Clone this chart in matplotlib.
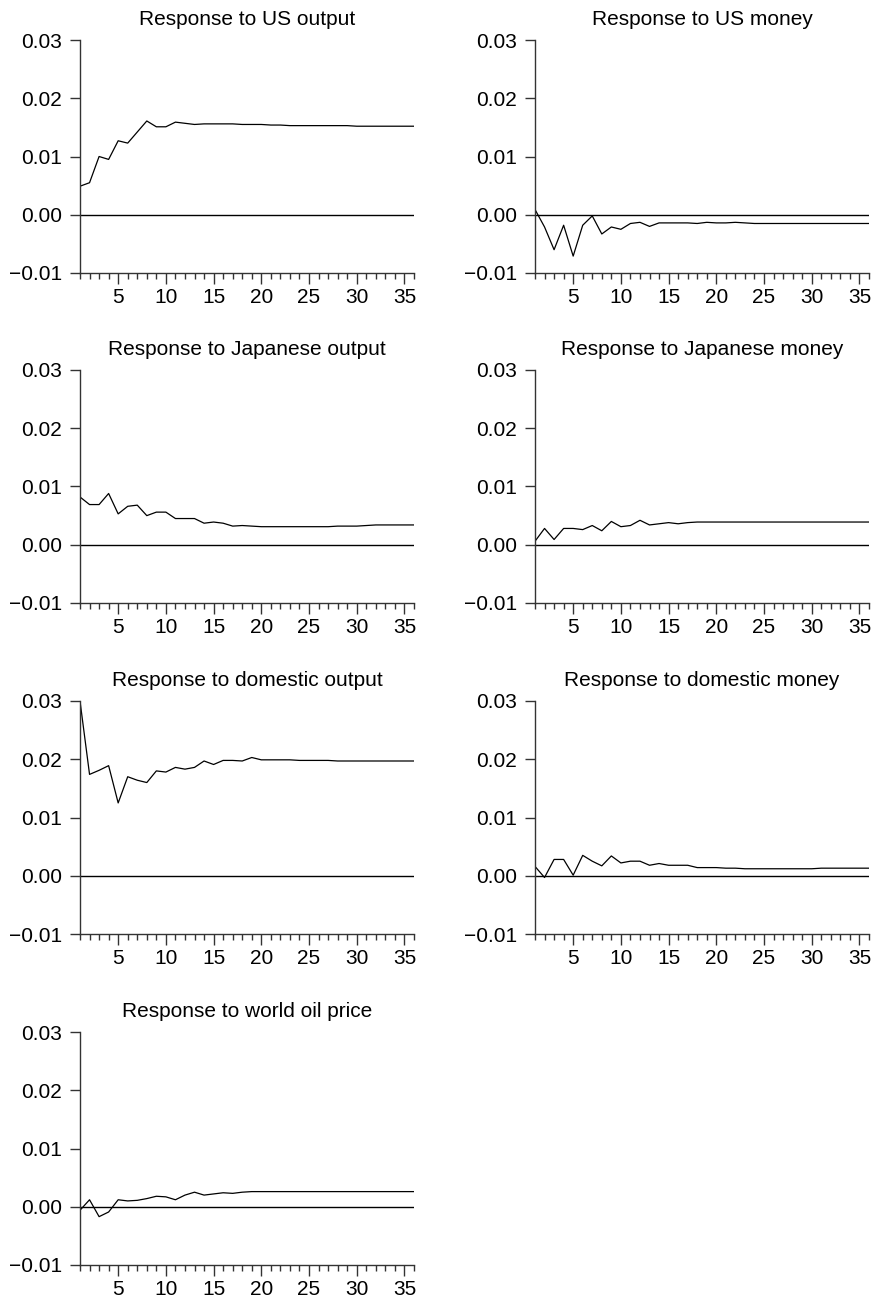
import matplotlib
matplotlib.use("Agg")
import matplotlib.pyplot as plt
from matplotlib.ticker import MultipleLocator, FuncFormatter
import numpy as np

plt.rcParams['font.family'] = ['Liberation Sans', 'DejaVu Sans']

# Horizon (periods 1..36)
periods = np.arange(1, 37)

titles = [
    "Response to US output",
    "Response to US money",
    "Response to Japanese output",
    "Response to Japanese money",
    "Response to domestic output",
    "Response to domestic money",
    "Response to world oil price",
]

us_output = [0.0049, 0.0055, 0.0100, 0.0095, 0.0127, 0.0123, 0.0142, 0.0161, 0.0151, 0.0151,
             0.0159, 0.0157, 0.0155, 0.0156, 0.0156, 0.0156, 0.0156, 0.0155, 0.0155, 0.0155,
             0.0154, 0.0154, 0.0153, 0.0153, 0.0153, 0.0153, 0.0153, 0.0153, 0.0153, 0.0152,
             0.0152, 0.0152, 0.0152, 0.0152, 0.0152, 0.0152]

us_money = [0.0009, -0.0021, -0.0060, -0.0018, -0.0071, -0.0018, -0.0002, -0.0033, -0.0021, -0.0025,
            -0.0015, -0.0013, -0.0020, -0.0014, -0.0014, -0.0014, -0.0014, -0.0015, -0.0013, -0.0014,
            -0.0014, -0.0013, -0.0014, -0.0015, -0.0015, -0.0015, -0.0015, -0.0015, -0.0015, -0.0015,
            -0.0015, -0.0015, -0.0015, -0.0015, -0.0015, -0.0015]

jp_output = [0.0082, 0.0069, 0.0069, 0.0088, 0.0053, 0.0066, 0.0068, 0.0050, 0.0056, 0.0056,
             0.0045, 0.0045, 0.0045, 0.0037, 0.0039, 0.0037, 0.0032, 0.0033, 0.0032, 0.0031,
             0.0031, 0.0031, 0.0031, 0.0031, 0.0031, 0.0031, 0.0031, 0.0032, 0.0032, 0.0032,
             0.0033, 0.0034, 0.0034, 0.0034, 0.0034, 0.0034]

jp_money = [0.0006, 0.0028, 0.0009, 0.0028, 0.0028, 0.0026, 0.0033, 0.0024, 0.0040, 0.0031,
            0.0033, 0.0042, 0.0034, 0.0036, 0.0038, 0.0036, 0.0038, 0.0039, 0.0039, 0.0039,
            0.0039, 0.0039, 0.0039, 0.0039, 0.0039, 0.0039, 0.0039, 0.0039, 0.0039, 0.0039,
            0.0039, 0.0039, 0.0039, 0.0039, 0.0039, 0.0039]

dom_output = [0.0300, 0.0174, 0.0181, 0.0189, 0.0125, 0.0170, 0.0164, 0.0160, 0.0180, 0.0178,
              0.0186, 0.0183, 0.0186, 0.0197, 0.0191, 0.0198, 0.0198, 0.0197, 0.0203, 0.0199,
              0.0199, 0.0199, 0.0199, 0.0198, 0.0198, 0.0198, 0.0198, 0.0197, 0.0197, 0.0197,
              0.0197, 0.0197, 0.0197, 0.0197, 0.0197, 0.0197]

dom_money = [0.0016, -0.0003, 0.0028, 0.0028, 0.0001, 0.0035, 0.0025, 0.0017, 0.0034, 0.0022,
             0.0025, 0.0025, 0.0018, 0.0021, 0.0018, 0.0018, 0.0018, 0.0014, 0.0014, 0.0014,
             0.0013, 0.0013, 0.0012, 0.0012, 0.0012, 0.0012, 0.0012, 0.0012, 0.0012, 0.0012,
             0.0013, 0.0013, 0.0013, 0.0013, 0.0013, 0.0013]

oil_price = [-0.0006, 0.0012, -0.0017, -0.0009, 0.0012, 0.0010, 0.0011, 0.0014, 0.0018, 0.0017,
             0.0012, 0.0020, 0.0025, 0.0020, 0.0022, 0.0024, 0.0023, 0.0025, 0.0026, 0.0026,
             0.0026, 0.0026, 0.0026, 0.0026, 0.0026, 0.0026, 0.0026, 0.0026, 0.0026, 0.0026,
             0.0026, 0.0026, 0.0026, 0.0026, 0.0026, 0.0026]

series = [us_output, us_money, jp_output, jp_money, dom_output, dom_money, oil_price]

W, H = 880, 1302
fig = plt.figure(figsize=(W / 100, H / 100), dpi=100)

# panel boxes in pixels (left, top, width, height)
col_left = [80, 535]
row_top = [40, 370, 701, 1032]
pw, ph = 334, 233

# y labels with a real minus sign
ylab = FuncFormatter(lambda v, pos: f"{v:.2f}".replace("-", "\u2212"))

spine_col = '#333333'
for i, (title, vals) in enumerate(zip(titles, series)):
    r, c = divmod(i, 2)
    ax = fig.add_axes([col_left[c] / W, 1 - (row_top[r] + ph) / H, pw / W, ph / H])
    ax.plot(periods, vals, color='black', lw=0.9)
    ax.axhline(0, color='black', lw=1.0)
    ax.set_xlim(1, 36)
    ax.set_ylim(-0.01, 0.03)
    ax.yaxis.set_major_locator(MultipleLocator(0.01))
    ax.yaxis.set_major_formatter(ylab)
    ax.set_xticks([5, 10, 15, 20, 25, 30, 35])
    ax.xaxis.set_minor_locator(MultipleLocator(1))
    for s in ['top', 'right']:
        ax.spines[s].set_visible(False)
    for s in ['left', 'bottom']:
        ax.spines[s].set_color(spine_col)
        ax.spines[s].set_linewidth(1.0)
    ax.tick_params(axis='y', which='major', length=7, width=1.0, color=spine_col,
                   labelsize=15, pad=6)
    ax.tick_params(axis='x', which='major', length=8, width=1.0, color=spine_col,
                   labelsize=15, pad=3)
    ax.tick_params(axis='x', which='minor', length=4, width=1.0, color=spine_col)
    ax.set_title(title, fontsize=15, pad=11)

plt.savefig("out.png", dpi=100)
